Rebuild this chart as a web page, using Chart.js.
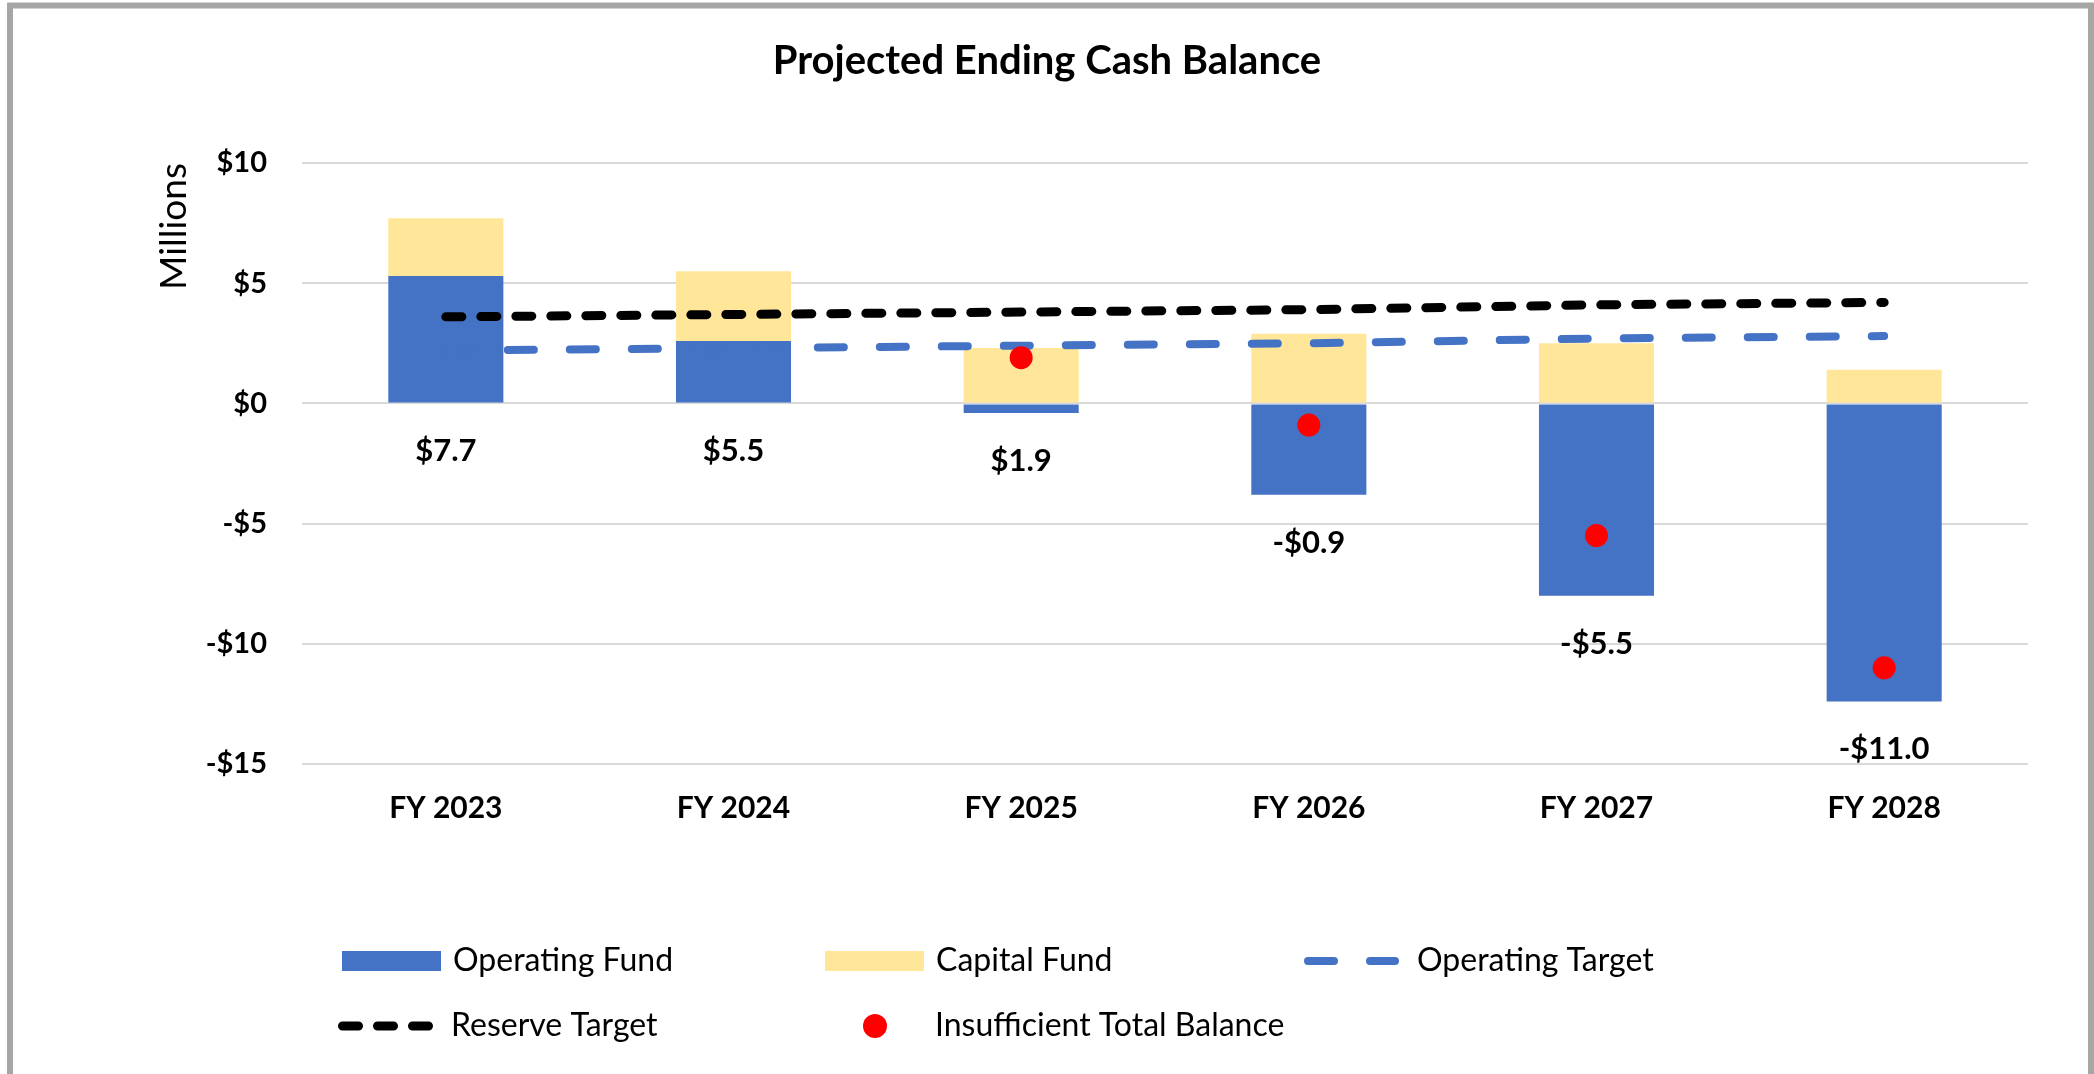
<!DOCTYPE html>
<html>
<head>
<meta charset="utf-8">
<script src="https://cdn.jsdelivr.net/npm/chart.js@4.4.1/dist/chart.umd.min.js"></script>
<style>
  html, body { margin: 0; padding: 0; background: #fff; }
  #wrap { width: 2094px; height: 1074px; position: relative; }
</style>
</head>
<body>
<div id="wrap"><canvas id="cash"></canvas></div>
<script>
const categories = ['FY 2023', 'FY 2024', 'FY 2025', 'FY 2026', 'FY 2027', 'FY 2028'];
const operatingFund = [5.3, 2.6, -0.4, -3.8, -8.0, -12.4];
const capitalFund = [2.4, 2.9, 2.3, 2.9, 2.5, 1.4];
const operatingTarget = [2.2, 2.3, 2.4, 2.5, 2.7, 2.8];
const reserveTarget = [3.6, 3.7, 3.8, 3.9, 4.1, 4.2];
const insufficientBalance = [null, null, 1.9, -0.9, -5.5, -11.0];
const yTicks = [-15, -10, -5, 0, 5, 10];
const chartTitle = 'Projected Ending Cash Balance';

const FONT = 'Lato, "Open Sans", sans-serif';

function money(v) {
    return (v < 0 ? '-$' : '$') + Math.abs(v);
}

// white background, grey frame and the title centred on the whole canvas
const framePlugin = {
    id: 'frame',
    beforeDraw(chart) {
        const c = chart.ctx;
        c.save();
        c.fillStyle = '#fff';
        c.fillRect(0, 0, chart.width, chart.height);
        c.strokeStyle = '#a6a6a6';
        c.lineWidth = 6;
        c.strokeRect(10, 5.5, chart.width - 13, chart.height + 20);
        c.font = 'bold 40px ' + FONT;
        c.fillStyle = '#000';
        c.textAlign = 'center';
        c.textBaseline = 'middle';
        c.fillText(chartTitle, chart.width / 2, 61);
        c.restore();
    }
};

// total balance labels under each bar
const totalsPlugin = {
    id: 'totals',
    afterDatasetsDraw(chart) {
        const c = chart.ctx;
        const x = chart.scales.x, y = chart.scales.y;
        c.save();
        c.font = 'bold 31px ' + FONT;
        c.fillStyle = '#000';
        c.textAlign = 'center';
        c.textBaseline = 'middle';
        categories.forEach((cat, i) => {
            const total = Math.round((operatingFund[i] + capitalFund[i]) * 10) / 10;
            const txt = (total < 0 ? '-$' : '$') + Math.abs(total).toFixed(1);
            const py = y.getPixelForValue(Math.min(0, operatingFund[i])) + 48;
            c.fillText(txt, x.getPixelForValue(i), py);
        });
        c.restore();
    }
};

// legend in two rows, three columns
const legendSpots = [
    { ds: 0, x: 342, y: 961 },
    { ds: 1, x: 825, y: 961 },
    { ds: 2, x: 1304, y: 961 },
    { ds: 3, x: 338, y: 1026 },
    { ds: 4, x: 862, y: 1026 }
];
const legendPlugin = {
    id: 'gridLegend',
    afterDraw(chart) {
        const c = chart.ctx;
        c.save();
        c.font = '32px ' + FONT;
        c.textBaseline = 'middle';
        legendSpots.forEach(s => {
            const d = chart.data.datasets[s.ds];
            let textX;
            if (d.type === 'bar') {
                c.fillStyle = d.backgroundColor;
                c.fillRect(s.x, s.y - 10, 99, 20);
                textX = s.x + 111;
            } else if (d.showLine === false) {
                c.fillStyle = d.pointBackgroundColor;
                c.beginPath();
                c.arc(s.x + 13, s.y, 12, 0, Math.PI * 2);
                c.fill();
                textX = s.x + 73;
            } else {
                c.strokeStyle = d.borderColor;
                c.lineWidth = d.borderWidth;
                c.lineCap = 'round';
                c.setLineDash(d.borderDash);
                c.beginPath();
                c.moveTo(s.x + d.borderWidth / 2, s.y);
                c.lineTo(s.x + 95 - d.borderWidth / 2, s.y);
                c.stroke();
                c.setLineDash([]);
                textX = s.x + 113;
            }
            c.fillStyle = '#000';
            c.fillText(d.label, textX, s.y);
        });
        c.restore();
    }
};

new Chart(document.getElementById('cash'), {
    data: {
        labels: categories,
        datasets: [
            {
                type: 'bar',
                label: 'Operating Fund',
                data: operatingFund,
                backgroundColor: '#4472C4',
                stack: 'funds',
                categoryPercentage: 0.8,
                barPercentage: 0.5,
                order: 3
            },
            {
                type: 'bar',
                label: 'Capital Fund',
                data: capitalFund,
                backgroundColor: '#FFE699',
                stack: 'funds',
                categoryPercentage: 0.8,
                barPercentage: 0.5,
                order: 3
            },
            {
                type: 'line',
                label: 'Operating Target',
                data: operatingTarget,
                borderColor: '#4472C4',
                borderWidth: 8,
                borderDash: [26, 36],
                borderCapStyle: 'round',
                pointRadius: 0,
                fill: false,
                stack: 'opTarget',
                order: 2
            },
            {
                type: 'line',
                label: 'Reserve Target',
                data: reserveTarget,
                borderColor: '#000000',
                borderWidth: 9,
                borderDash: [16, 19],
                borderCapStyle: 'round',
                pointRadius: 0,
                fill: false,
                stack: 'reserve',
                order: 1
            },
            {
                type: 'line',
                label: 'Insufficient Total Balance',
                data: insufficientBalance,
                showLine: false,
                pointRadius: 11.5,
                pointBackgroundColor: '#FF0000',
                pointBorderWidth: 0,
                borderColor: '#FF0000',
                stack: 'dots',
                order: 0
            }
        ]
    },
    options: {
        responsive: true,
        maintainAspectRatio: false,
        animation: false,
        layout: { padding: { top: 163, left: 0, right: 66, bottom: 0 } },
        plugins: {
            legend: { display: false },
            tooltip: { enabled: false },
            title: { display: false }
        },
        scales: {
            x: {
                stacked: true,
                grid: { display: false, drawTicks: false },
                border: { display: false },
                ticks: {
                    color: '#000',
                    padding: 26,
                    font: { family: FONT, size: 30, weight: 'bold' }
                },
                afterFit(scale) { scale.height = 310; }
            },
            y: {
                stacked: true,
                min: yTicks[0],
                max: yTicks[yTicks.length - 1],
                grid: { color: '#d9d9d9', lineWidth: 2, drawTicks: false },
                border: { display: false },
                afterBuildTicks(scale) {
                    scale.ticks = yTicks.map(v => ({ value: v }));
                },
                ticks: {
                    color: '#000',
                    padding: 35,
                    font: { family: FONT, size: 29, weight: 'bold' },
                    callback: v => money(v)
                },
                title: {
                    display: true,
                    text: 'Millions',
                    color: '#000',
                    align: 'end',
                    font: { family: FONT, size: 37 },
                    padding: { top: 152, bottom: 0 }
                },
                afterFit(scale) { scale.width = 302; }
            }
        }
    },
    plugins: [framePlugin, totalsPlugin, legendPlugin]
});
</script>
</body>
</html>
